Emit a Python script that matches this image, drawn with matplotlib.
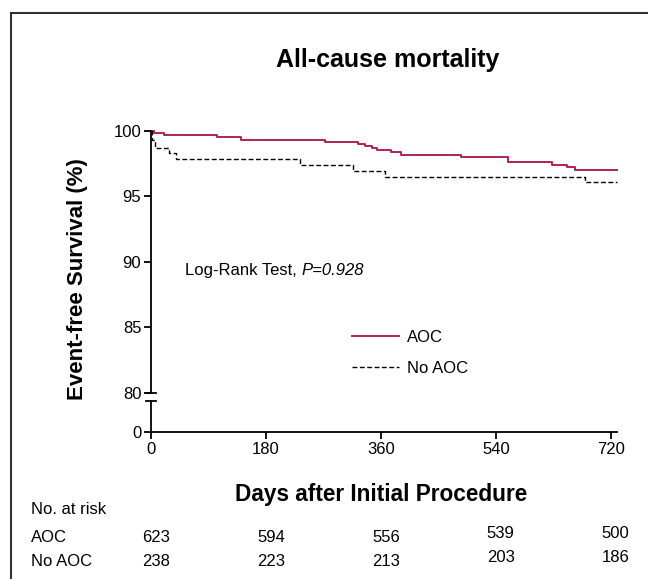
import matplotlib
matplotlib.use("Agg")
import matplotlib.pyplot as plt
from matplotlib.patches import Rectangle

plt.rcParams['font.family'] = ['Liberation Sans', 'DejaVu Sans']

# Kaplan-Meier steps
aoc_days = [0, 4, 20, 103, 141, 273, 324, 335, 346, 354, 376, 391, 485, 559, 628, 651, 664, 729]
aoc_surv = [100, 99.85, 99.7, 99.55, 99.3, 99.15, 99.0, 98.85, 98.7, 98.5, 98.35, 98.15,
            97.98, 97.6, 97.4, 97.2, 97.0, 97.0]
noaoc_days = [0, 2, 6, 28, 39, 233, 316, 367, 680, 729]
noaoc_surv = [100, 99.3, 98.7, 98.3, 97.85, 97.4, 96.95, 96.5, 96.05, 96.05]

x_ticks = [0, 180, 360, 540, 720]
y_ticks = [80, 85, 90, 95, 100]
risk_aoc = [623, 594, 556, 539, 500]
risk_noaoc = [238, 223, 213, 203, 186]

aoc_color = '#b0215c'

fig = plt.figure(figsize=(6.48, 5.79), dpi=100)
W, H = 648, 579

def box(l, t, r, b):
    return [l / W, 1 - b / H, (r - l) / W, (b - t) / H]

ax = fig.add_axes(box(151, 130.7, 616.5, 392.7))
ax_lo = fig.add_axes(box(151, 401, 616.5, 432))

ax.step(aoc_days, aoc_surv, where='post', color=aoc_color, lw=1.4, clip_on=False, label='AOC')
ax.step(noaoc_days, noaoc_surv, where='post', color='black', lw=1.0, dashes=(3.5, 1.8),
        clip_on=False, label='No AOC')

for a in (ax, ax_lo):
    a.set_xlim(0, 729)
    a.spines['top'].set_visible(False)
    a.spines['right'].set_visible(False)
    a.spines['left'].set_linewidth(1.3)
    a.spines['bottom'].set_linewidth(1.3)
    a.tick_params(width=1.3, length=5, labelsize=12, pad=2)

ax.set_ylim(80, 100)
ax.set_yticks(y_ticks)
ax.spines['bottom'].set_visible(False)
ax.set_xticks([])

ax_lo.set_ylim(0, 1)
ax_lo.set_yticks([0])
ax_lo.set_xticks(x_ticks)

# break caps on the y axis
cap = 5 / 465.5
ax.plot([-cap, cap], [0, 0], transform=ax.transAxes, color='black', lw=1.3, clip_on=False)
ax_lo.plot([-cap, cap], [1, 1], transform=ax_lo.transAxes, color='black', lw=1.3, clip_on=False)

lr = ax.text(185 / W, 1 - 275 / H, 'Log-Rank Test, ', transform=fig.transFigure,
             fontsize=12, va='baseline', ha='left')
ax.annotate('P=0.928', xy=(1, 0), xycoords=lr, fontsize=12, fontstyle='italic',
            va='bottom', ha='left')

ax.legend(loc='upper left', bbox_to_anchor=((352 - 151) / 465.5, (392.7 - 330) / 262),
          frameon=False, fontsize=12, handlelength=2.8, handletextpad=0.5, labelspacing=0.95,
          borderpad=0, borderaxespad=0)

fig.text(388 / W, 1 - 60 / H, 'All-cause mortality', fontsize=18, fontweight='bold',
         ha='center', va='center')
fig.text(381 / W, 1 - 494 / H, 'Days after Initial Procedure', fontsize=16.3, fontweight='bold',
         ha='center', va='center')
fig.text(77 / W, 1 - 279 / H, 'Event-free Survival (%)', fontsize=16, fontweight='bold',
         rotation=90, ha='center', va='center')

# number at risk table
fig.text(31 / W, 1 - 510 / H, 'No. at risk', fontsize=12, va='center')
fig.text(31 / W, 1 - 537 / H, 'AOC', fontsize=12, va='center')
fig.text(31 / W, 1 - 562 / H, 'No AOC', fontsize=12, va='center')
lift = [0, 0, 0, 4, 4]
for d, n1, n2, up in zip(x_ticks, risk_aoc, risk_noaoc, lift):
    xf = (151 + 5 + d * 459.7 / 720) / W
    fig.text(xf, 1 - (537 - up) / H, str(n1), fontsize=12, ha='center', va='center')
    fig.text(xf, 1 - (562 - up) / H, str(n2), fontsize=12, ha='center', va='center')

fig.patches.append(Rectangle((11 / W, -0.1), 1.2, (H - 13) / H + 0.1, transform=fig.transFigure,
                             fill=False, lw=1.5, edgecolor='#333333'))

fig.savefig('out.png', dpi=100)
